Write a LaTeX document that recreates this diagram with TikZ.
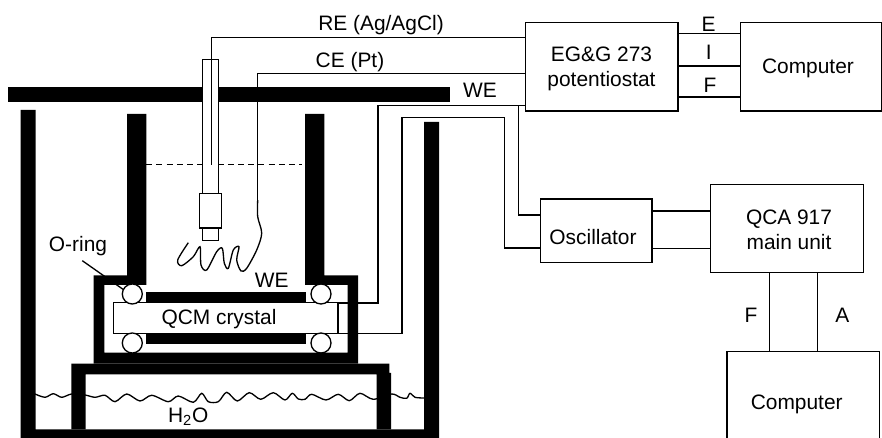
\documentclass[tikz,border=0pt]{standalone}
\usepackage{fontspec}
\setmainfont{Liberation Sans}
\tikzset{
  unit/.style={draw,line width=0.75pt,inner sep=0pt},
  wire/.style={line width=0.75pt},
  wall/.style={fill=black,draw=none},
  oring/.style={draw,circle,fill=white,line width=0.75pt,minimum size=11.4pt,inner sep=0pt},
  tag/.style={inner sep=0pt,align=center}
}
\begin{document}
\begin{tikzpicture}[x=0.02cm,y=-0.02cm,font=\fontsize{11.9}{14.4}\selectfont]
    \useasboundingbox (0,0) rectangle (882,438);
    \node [unit,minimum width=86.9pt,minimum height=50.3pt] (pot) at (601.7,66.7) {};
    \node [unit,minimum width=80.5pt,minimum height=50.3pt] (compa) at (811,66.7) {};
    \node [unit,minimum width=63.6pt,minimum height=35.9pt] (osc) at (596.2,230.7) {};
    \node [unit,minimum width=86.9pt,minimum height=50.4pt] (qca) at (787,228.5) {};
    \node [unit,minimum width=86.7pt,minimum height=59.5pt] (compb) at (803.2,403.5) {};
    \node [tag] (pottext) at (601.5,69) {EG\&G 273\\potentiostat};
    \node [tag] (compatext) at (808,68) {Computer};
    \node [tag] (osctext) at (593,237) {Oscillator};
    \node [tag] (qcatext) at (789,230) {QCA 917\\main unit};
    \node [tag] (compbtext) at (796.7,404.5) {Computer};
    \node [tag] (e) at (708.7,24) {E};
    \node [tag] (i) at (708.7,52) {I};
    \node [tag] (f) at (710,85.7) {F};
    \node [tag] (fq) at (751,315.7) {F};
    \node [tag] (aq) at (842.3,315.7) {A};
    \draw [wire] (pot.east |- 0,33.7) -- (compa.west |- 0,33.7);
    \draw [wire] (pot.east |- 0,66) -- (compa.west |- 0,66);
    \draw [wire] (pot.east |- 0,97) -- (compa.west |- 0,97);
    \draw [wire] (osc.east |- 0,211) -- (qca.west |- 0,211);
    \draw [wire] (osc.east |- 0,248.7) -- (qca.west |- 0,248.7);
    \draw [wire] (qca.south -| 769.7,0) -- (compb.north -| 769.7,0);
    \draw [wire] (qca.south -| 817.7,0) -- (compb.north -| 817.7,0);
    \node [tag] (re) at (381,25) {RE (Ag/AgCl)};
    \node [tag] (ce) at (350,62) {CE (Pt)};
    \node [tag] (wea) at (480,90) {WE};
    \node [tag] (web) at (271.7,280) {WE};
    \node [tag] (ring) at (78,246) {O-ring};
    \node [tag] (water) at (188.3,416.5) {H\textsubscript{2}O};
    \node [unit,fill=white,minimum width=127.6pt,minimum height=17.4pt] (crystal) at (225.8,318) {};
    \node [tag] (crystaltext) at (219,319) {QCM crystal};
    \coordinate (retip) at (211.3,164.7);
    \coordinate (cetip) at (257.7,200);
    \coordinate (weup) at (378,105.3);
    \coordinate (wedown) at (402,117.3);
    \coordinate (oscup) at (504.3,117.3);
    \coordinate (branch) at (518.3,105.3);
    \draw [wire] (crystal.east |- 0,303) -| (weup) -- (pot.west |- weup);
    \draw [wire] (crystal.east |- 0,333.3) -| (wedown) -- (oscup) |- (osc.west |- 0,248);
    \draw [wire] (branch) |- (osc.west |- 0,215);
    \draw [wire] (cetip) |- (pot.west |- 0,73.3);
    \draw [wire] plot [smooth] coordinates {(cetip) (257.7,216.7) (261.7,233.3) (256.7,250) (246.7,268.3) (241,271) (236.7,260) (239,246.7) (233.3,250) (228.3,268.3) (224.3,263.3) (222.3,248.3) (216.7,251.7) (206.7,270) (201,265) (200,246.7) (193.3,256.7) (181.7,265.7) (177.7,260) (188.3,242.7)};
    \draw [wire] plot [smooth] coordinates {(35,394) (45,397.3) (53.3,393.7) (61.7,397.3) (71.7,394) (85,395) (95,397.3) (105,395.3) (115,401.7) (126.7,394) (140,401) (151.7,395.3) (168.3,401.7) (178.3,396) (193.3,402.3) (201.7,393.3) (208.3,401.7) (218.3,401.7) (226.7,392.3) (237.3,401) (249.3,392.7) (260.7,399.3) (273.3,392.7) (285,400) (292.3,393.3) (298.3,399) (305,399.3) (311.7,394.3) (326,400) (338.3,394.3) (349.3,400.7) (360,393.3) (373.3,399.3) (391.7,394) (400,397.3) (406.7,398.3) (410,393.3) (415,397.3) (424,398)};
    \draw [wire] (82.3,260.7) -- (124,290);
    \draw [wire,dashed,dash pattern=on 3.4pt off 2.4pt] (146.3,164.7) -- (301.7,164.7);
    \fill [wall] (8,87) rectangle (450,102);
    \fill [wall] (20.7,110) -- (35.7,110) -- (35.7,429.3) -- (424,429.3) -- (424,122) -- (439,122) -- (439,438) -- (20.7,438) -- cycle;
    \fill [wall] (71.3,363.7) -- (389.3,363.7) -- (389.3,373) -- (391,373) -- (391,429.3) -- (376.7,429.3) -- (376.7,374.3) -- (85.7,374.3) -- (85.7,429.3) -- (71.3,429.3) -- cycle;
    \fill [wall] (127,114) -- (146.3,114) -- (146.3,285) -- (104.3,285) -- (104.3,352.7) -- (347.7,352.7) -- (347.7,285) -- (305,285) -- (305,114) -- (324.3,114) -- (324.3,275.3) -- (358,275.3) -- (358,363.7) -- (93.7,363.7) -- (93.7,275.3) -- (127,275.3) -- cycle;
    \fill [wall] (146.3,292.3) rectangle (305.7,303);
    \fill [wall] (146.3,333.3) rectangle (305.7,344.3);
    \node [oring] (ringa) at (132.3,294) {};
    \node [oring] (ringb) at (321,294) {};
    \node [oring] (ringc) at (132.3,343) {};
    \node [oring] (ringd) at (321,343) {};
    \draw [wire,fill=white] (202.3,59.3) rectangle (218.7,193.7);
    \draw [wire,fill=white] (199.3,193.7) rectangle (221.7,228);
    \draw [wire,fill=white] (202.3,228) rectangle (218.7,240.7);
    \draw [wire] (retip) |- (pot.west |- 0,37.3);
\end{tikzpicture}
\end{document}
